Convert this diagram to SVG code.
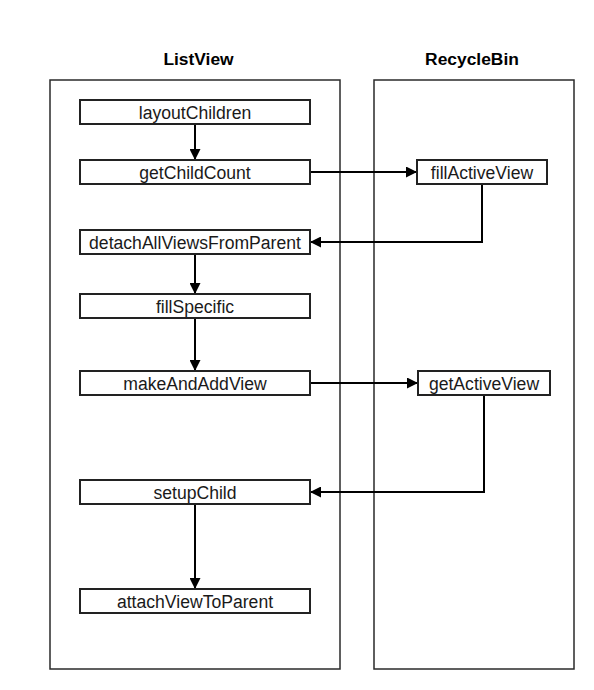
<svg xmlns="http://www.w3.org/2000/svg" width="594" height="690" viewBox="0 0 594 690">
  <defs>
    <style>
      .lane { fill: #fff; stroke: #2a2a2a; stroke-width: 1.5; }
      .box { fill: #fff; stroke: #222; stroke-width: 2; }
      .title { font-family: "Liberation Sans", Arial, sans-serif; font-size: 17.4px; font-weight: bold; fill: #000; text-anchor: middle; }
      .label { font-family: "Liberation Sans", Arial, sans-serif; font-size: 17.6px; fill: #1a1a1a; text-anchor: middle; }
      .edge { fill: none; stroke: #000; stroke-width: 2; }
    </style>
    <marker id="arrow" viewBox="0 0 10 10" refX="10" refY="5" markerWidth="11" markerHeight="11" markerUnits="userSpaceOnUse" orient="auto">
      <path d="M0,0 L10,5 L0,10 Z" fill="#000"/>
    </marker>
  </defs>
  <rect width="594" height="690" fill="#fff"/>

  <!-- swimlanes -->
  <g id="lane-listview">
    <text class="title" x="198.5" y="65">ListView</text>
    <rect class="lane" x="50" y="80" width="290" height="589"/>
  </g>
  <g id="lane-recyclebin">
    <text class="title" x="472" y="65">RecycleBin</text>
    <rect class="lane" x="374" y="80" width="200" height="589"/>
  </g>

  <!-- connectors -->
  <g id="connectors">
    <path class="edge" d="M195,124 V160" marker-end="url(#arrow)"/>
    <path class="edge" d="M310,172 H417" marker-end="url(#arrow)"/>
    <path class="edge" d="M482,184 V242 H310" marker-end="url(#arrow)"/>
    <path class="edge" d="M195,254 V294" marker-end="url(#arrow)"/>
    <path class="edge" d="M195,318 V371" marker-end="url(#arrow)"/>
    <path class="edge" d="M310,383 H418" marker-end="url(#arrow)"/>
    <path class="edge" d="M484,395 V492 H310" marker-end="url(#arrow)"/>
    <path class="edge" d="M195,504 V589" marker-end="url(#arrow)"/>
  </g>

  <!-- ListView nodes -->
  <g id="layoutChildren">
    <rect class="box" x="80" y="100" width="230" height="24"/>
    <text class="label" x="195" y="118.5">layoutChildren</text>
  </g>
  <g id="getChildCount">
    <rect class="box" x="80" y="160" width="230" height="24"/>
    <text class="label" x="195" y="178.5">getChildCount</text>
  </g>
  <g id="detachAllViewsFromParent">
    <rect class="box" x="80" y="230" width="230" height="24"/>
    <text class="label" x="195" y="248.5">detachAllViewsFromParent</text>
  </g>
  <g id="fillSpecific">
    <rect class="box" x="80" y="294" width="230" height="24"/>
    <text class="label" x="195" y="312.5">fillSpecific</text>
  </g>
  <g id="makeAndAddView">
    <rect class="box" x="80" y="371" width="230" height="24"/>
    <text class="label" x="195" y="389.5">makeAndAddView</text>
  </g>
  <g id="setupChild">
    <rect class="box" x="80" y="480" width="230" height="24"/>
    <text class="label" x="195" y="498.5">setupChild</text>
  </g>
  <g id="attachViewToParent">
    <rect class="box" x="80" y="589" width="230" height="24"/>
    <text class="label" x="195" y="607.5">attachViewToParent</text>
  </g>

  <!-- RecycleBin nodes -->
  <g id="fillActiveView">
    <rect class="box" x="417" y="160" width="130" height="24"/>
    <text class="label" x="482" y="178.5">fillActiveView</text>
  </g>
  <g id="getActiveView">
    <rect class="box" x="418" y="371" width="132" height="24"/>
    <text class="label" x="484" y="389.5">getActiveView</text>
  </g>
</svg>
